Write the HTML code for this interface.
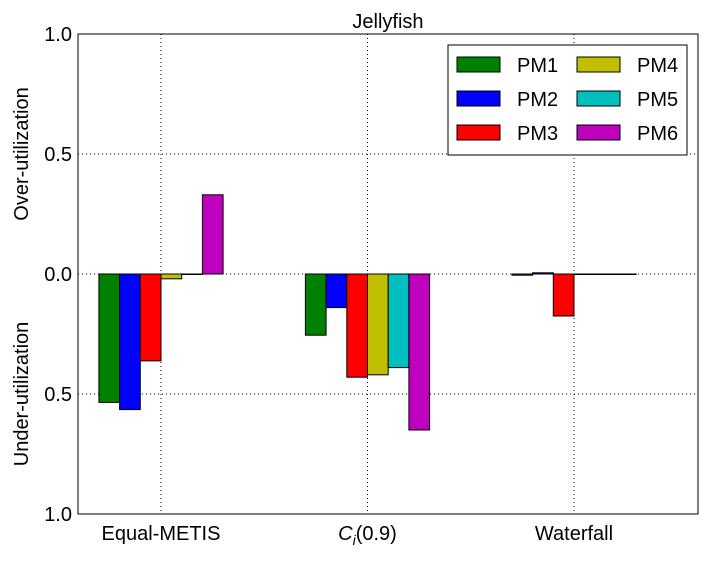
<!DOCTYPE html>
<html><head><meta charset="utf-8"><style>
body{margin:0;background:#fff;}
text{font-family:"Liberation Sans",sans-serif;}
</style></head><body>
<svg id="chart" width="707" height="556" xmlns="http://www.w3.org/2000/svg"></svg>
<script>
const categories=["Equal-METIS","Ci(0.9)","Waterfall"];
const series=["PM1","PM2","PM3","PM4","PM5","PM6"];
const colors=["#008000","#0000ff","#ff0000","#bfbf00","#00bfbf","#bf00bf"];
const pm1=[-0.535,-0.255,-0.005];
const pm2=[-0.565,-0.14,0.005];
const pm3=[-0.362,-0.43,-0.175];
const pm4=[-0.02,-0.42,0];
const pm5=[0,-0.39,0];
const pm6=[0.33,-0.65,0];
const yTicks=[1,0.5,0,-0.5,-1];
const yTickLabels=["1.0","0.5","0.0","0.5","1.0"];
const values=[pm1,pm2,pm3,pm4,pm5,pm6];
const NS="http://www.w3.org/2000/svg";
const svg=document.getElementById('chart');
const L=78,R=698,T=34,B=514;
const y=v=>274-v*240;
const xc=i=>161+i*206.5;
const bw=20.7;
function mk(tag,attrs,parent){const e=document.createElementNS(NS,tag);for(const k in attrs)e.setAttribute(k,attrs[k]);(parent||svg).appendChild(e);return e;}
// grid
yTicks.forEach((t,i)=>{
  const g=mk('line',{x1:L,x2:R,y1:y(t),y2:y(t),stroke:'#000','stroke-dasharray':'1,3','stroke-width':1});
  
  
  const lb=mk('text',{x:L-6,y:y(t)+7,'text-anchor':'end','font-size':20});
  lb.textContent=yTickLabels[i];
  
  
});
categories.forEach((c,i)=>{
  const g=mk('line',{x1:xc(i),x2:xc(i),y1:T,y2:B,stroke:'#000','stroke-dasharray':'1,3','stroke-width':1});
  
  
  const lb=mk('text',{x:xc(i),y:B+26,'text-anchor':'middle','font-size':20});
  if(i===1){lb.setAttribute('font-family','Liberation Serif');lb.innerHTML='<tspan font-style="italic">C</tspan><tspan font-style="italic" font-size="14" dy="5">i</tspan><tspan dy="-5">(0.9)</tspan>';}
  else lb.textContent=c;
  
  
});
// bars
values.forEach((arr,s)=>{
  arr.forEach((v,i)=>{
    const x=xc(i)-3*bw+s*bw;
    const y0=Math.min(y(0),y(v)),h=Math.abs(y(v)-y(0));
    const r=mk('rect',{x:x,y:y0,width:bw,height:Math.max(h,0.5),fill:colors[s],stroke:'#000','stroke-width':1});
    
    
  });
});
// axes frame
const fr=mk('rect',{x:L,y:T,width:R-L,height:B-T,fill:'none',stroke:'#000','stroke-width':1});


const ti=mk('text',{x:(L+R)/2,y:28,'text-anchor':'middle','font-size':20});
ti.textContent='Jellyfish';


const y1=mk('text',{transform:'translate(28,154) rotate(-90)','text-anchor':'middle','font-size':20});
y1.textContent='Over-utilization';


const y2=mk('text',{transform:'translate(28,394) rotate(-90)','text-anchor':'middle','font-size':20});
y2.textContent='Under-utilization';


// legend
const lg=mk('rect',{x:448,y:45,width:239,height:110,fill:'#fff',stroke:'#000','stroke-width':1});


series.forEach((s,k)=>{
  const col=Math.floor(k/3),row=k%3;
  const px=457+col*120,py=57+row*34;
  const p=mk('rect',{x:px,y:py,width:43,height:15,fill:colors[k],stroke:'#000','stroke-width':1});
  
  
  const t=mk('text',{x:px+60,y:py+15,'font-size':20});
  t.textContent=s;
  
  
});
</script>
</body></html>
